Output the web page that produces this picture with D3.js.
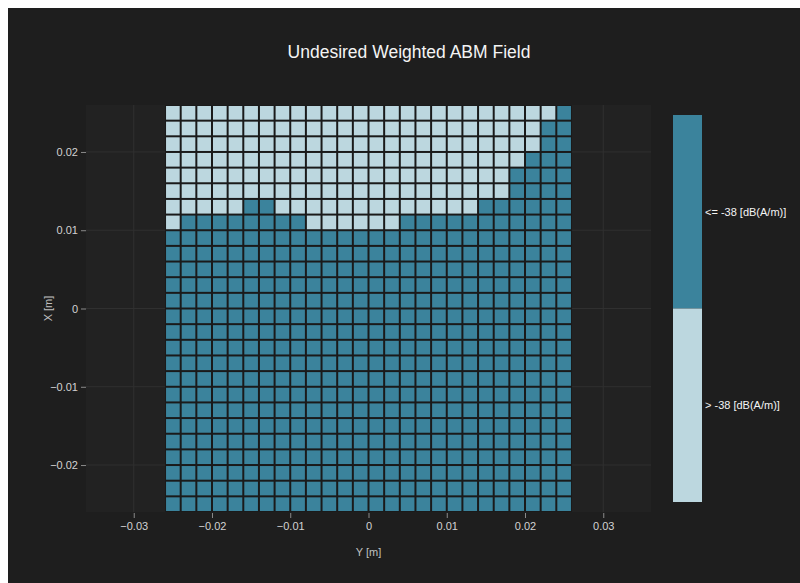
<!DOCTYPE html>
<html>
<head>
<meta charset="utf-8">
<script src="https://cdn.jsdelivr.net/npm/d3@7"></script>
<style>
  body { margin: 0; background: #ffffff; }
  text { font-family: "Liberation Sans", Arial, sans-serif; }
</style>
</head>
<body>
<div id="chart"></div>
<script>
// cell centres along the horizontal axis (Y [m])
var yCenters = [-0.025, -0.023, -0.021, -0.019, -0.017, -0.015, -0.013, -0.011, -0.009,
  -0.007, -0.005, -0.003, -0.001, 0.001, 0.003, 0.005, 0.007, 0.009, 0.011, 0.013,
  0.015, 0.017, 0.019, 0.021, 0.023, 0.025];

// cell centres along the vertical axis (X [m]), top row first
var xCenters = [0.025, 0.023, 0.021, 0.019, 0.017, 0.015, 0.013, 0.011, 0.009, 0.007,
  0.005, 0.003, 0.001, -0.001, -0.003, -0.005, -0.007, -0.009, -0.011, -0.013,
  -0.015, -0.017, -0.019, -0.021, -0.023, -0.025];

// 1 = "> -38", 0 = "<= -38"; one string per row, top row first
var fieldRows = [
  "11111 11111 11111 11111 11111 0",
  "11111 11111 11111 11111 1111 00",
  "11111 11111 11111 11111 1111 00",
  "11111 11111 11111 11111 111 000",
  "11111 11111 11111 11111 11 0000",
  "11111 11111 11111 11111 11 0000",
  "11111 00 11111 11111 111 000000",
  "1 00000000 111111 00000000000",
  "00000 00000 00000 00000 00000 0",
  "00000 00000 00000 00000 00000 0",
  "00000 00000 00000 00000 00000 0",
  "00000 00000 00000 00000 00000 0",
  "00000 00000 00000 00000 00000 0",
  "00000 00000 00000 00000 00000 0",
  "00000 00000 00000 00000 00000 0",
  "00000 00000 00000 00000 00000 0",
  "00000 00000 00000 00000 00000 0",
  "00000 00000 00000 00000 00000 0",
  "00000 00000 00000 00000 00000 0",
  "00000 00000 00000 00000 00000 0",
  "00000 00000 00000 00000 00000 0",
  "00000 00000 00000 00000 00000 0",
  "00000 00000 00000 00000 00000 0",
  "00000 00000 00000 00000 00000 0",
  "00000 00000 00000 00000 00000 0",
  "00000 00000 00000 00000 00000 0"
];

var classLabels = ["<= -38 [dB(A/m)]", "> -38 [dB(A/m)]"];
var classColors = ["#3b839c", "#bcd7df"];
var tickValues = [-0.03, -0.02, -0.01, 0, 0.01, 0.02, 0.03];
var cellSize = 0.002;

var svgWidth = 800;
var svgHeight = 583;

var svg = d3.select("#chart")
  .append("svg")
  .attr("width", svgWidth)
  .attr("height", svgHeight);

// dark paper, leaves a thin white strip top and left
svg.append("rect")
  .attr("x", 8)
  .attr("y", 8)
  .attr("width", svgWidth - 8)
  .attr("height", svgHeight - 8)
  .attr("fill", "#1e1e1e");

var xScale = d3.scaleLinear()
  .domain([-0.0361, 0.0361])
  .range([86, 651]);

var yScale = d3.scaleLinear()
  .domain([-0.026, 0.026])
  .range([512, 105]);

// plot background
svg.append("rect")
  .attr("x", xScale.range()[0])
  .attr("y", yScale.range()[1])
  .attr("width", xScale.range()[1] - xScale.range()[0])
  .attr("height", yScale.range()[0] - yScale.range()[1])
  .attr("fill", "#222222");

// grid lines
var gridGroup = svg.append("g");
gridGroup.selectAll(".vgrid")
  .data(tickValues)
  .enter()
  .append("line")
  .attr("x1", d => xScale(d))
  .attr("x2", d => xScale(d))
  .attr("y1", yScale.range()[1])
  .attr("y2", yScale.range()[0])
  .attr("stroke", "#303030")
  .attr("stroke-width", 1);

gridGroup.selectAll(".hgrid")
  .data(tickValues.filter(d => Math.abs(d) < 0.026))
  .enter()
  .append("line")
  .attr("x1", xScale.range()[0])
  .attr("x2", xScale.range()[1])
  .attr("y1", d => yScale(d))
  .attr("y2", d => yScale(d))
  .attr("stroke", "#303030")
  .attr("stroke-width", 1);

// heatmap cells
var cells = [];
fieldRows.forEach(function(row, i) {
  row.replace(/ /g, "").split("").forEach(function(v, j) {
    cells.push({ x: xCenters[i], y: yCenters[j], v: +v });
  });
});

// dark backing behind the cells so the gaps read as dark lines
svg.append("rect")
  .attr("x", xScale(yCenters[0] - cellSize / 2))
  .attr("y", yScale(xCenters[0] + cellSize / 2))
  .attr("width", xScale(yCenters[yCenters.length - 1] + cellSize / 2) - xScale(yCenters[0] - cellSize / 2))
  .attr("height", yScale(xCenters[xCenters.length - 1] - cellSize / 2) - yScale(xCenters[0] + cellSize / 2))
  .attr("fill", "#1a1a1a");

var gap = 2;
svg.append("g")
  .selectAll("rect")
  .data(cells)
  .enter()
  .append("rect")
  .attr("x", d => xScale(d.y - cellSize / 2) + gap / 2)
  .attr("y", d => yScale(d.x + cellSize / 2) + gap / 2)
  .attr("width", d => xScale(d.y + cellSize / 2) - xScale(d.y - cellSize / 2) - gap)
  .attr("height", d => yScale(d.x - cellSize / 2) - yScale(d.x + cellSize / 2) - gap)
  .attr("fill", d => classColors[d.v]);

// axes
var fmt = d => d === 0 ? "0" : d3.format(".2f")(d).replace("-", "\u2212");

var bottomAxis = d3.axisBottom(xScale)
  .tickValues(tickValues)
  .tickSize(5)
  .tickPadding(4)
  .tickFormat(fmt);

var leftAxis = d3.axisLeft(yScale)
  .tickValues(tickValues.filter(d => Math.abs(d) < 0.026))
  .tickSize(5)
  .tickPadding(3)
  .tickFormat(fmt);

var xAxis = svg.append("g")
  .attr("transform", `translate(0, ${yScale.range()[0] + 1})`)
  .call(bottomAxis);

var yAxis = svg.append("g")
  .attr("transform", `translate(${xScale.range()[0]}, 0)`)
  .call(leftAxis);

[xAxis, yAxis].forEach(function(ax) {
  ax.select(".domain").remove();
  ax.selectAll(".tick line").attr("stroke", "#8a8a8a");
  ax.selectAll(".tick text")
    .attr("fill", "#d2d2d2")
    .style("font-size", "11px")
    .style("font-family", "'Liberation Sans', Arial, sans-serif");
});

// axis titles
svg.append("text")
  .attr("x", xScale(0))
  .attr("y", 556)
  .attr("text-anchor", "middle")
  .attr("fill", "#c0c0c0")
  .style("font-size", "11px")
  .text("Y [m]");

svg.append("text")
  .attr("transform", `translate(52, ${yScale(0)}) rotate(-90)`)
  .attr("text-anchor", "middle")
  .attr("fill", "#c0c0c0")
  .style("font-size", "11px")
  .text("X [m]");

// title
svg.append("text")
  .attr("x", 409)
  .attr("y", 58)
  .attr("text-anchor", "middle")
  .attr("fill", "#f4f4f4")
  .style("font-size", "17.5px")
  .text("Undesired Weighted ABM Field");

// legend bar
var legendScale = d3.scaleBand()
  .domain(classLabels)
  .range([115, 502]);

var legendGroup = svg.append("g");
legendGroup.selectAll("rect")
  .data(classLabels)
  .enter()
  .append("rect")
  .attr("x", 673)
  .attr("y", d => legendScale(d))
  .attr("width", 29)
  .attr("height", legendScale.bandwidth())
  .attr("fill", (d, i) => classColors[i]);

legendGroup.selectAll("text")
  .data(classLabels)
  .enter()
  .append("text")
  .attr("x", 705)
  .attr("y", d => legendScale(d) + legendScale.bandwidth() / 2)
  .attr("dy", "0.35em")
  .attr("fill", "#f4f4f4")
  .style("font-size", "11px")
  .text(d => d);
</script>
</body>
</html>
